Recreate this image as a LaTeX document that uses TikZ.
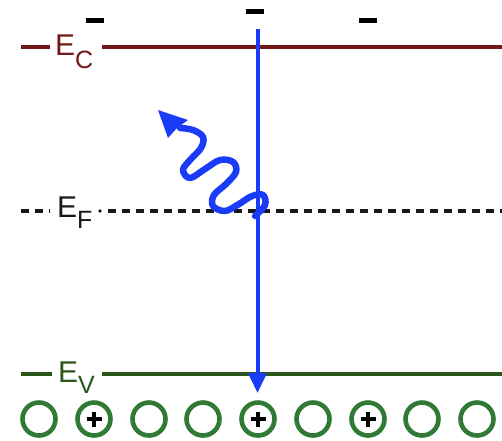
\documentclass[tikz,border=0pt]{standalone}
\usepackage{fontspec}
\setmainfont{Liberation Sans}
\usetikzlibrary{arrows.meta}
\definecolor{ecred}{HTML}{731818}
\definecolor{evgreen}{HTML}{2A5619}
\definecolor{holegreen}{HTML}{317A36}
\definecolor{photonblue}{HTML}{1A3CF8}
\tikzset{
  ecline/.style={line width=4.6pt, ecred},
  evline/.style={line width=4.6pt, evgreen},
  efline/.style={line width=4.2pt, black!90, dash pattern=on 8pt off 6pt},
  lbl/.style={inner sep=0pt, anchor=base west, font=\fontsize{30}{30}\selectfont},
  hole/.style={circle, draw=holegreen, line width=4.6pt, minimum size=33pt, inner sep=0pt},
  minusbar/.style={fill=black, minimum width=18pt, minimum height=5pt, inner sep=0pt},
  plusmark/.style={line width=3.8pt, black},
}
\begin{document}
\begin{tikzpicture}[x=1pt,y=-1pt]
\path[use as bounding box, fill=white] (0,0) rectangle (502,440);

% E_C level
\node[lbl, text=ecred] (EC) at (55,55) {E\raisebox{-13pt}{\fontsize{25}{25}\selectfont C}};
\coordinate (ec0) at (21,47);
\coordinate (ec1) at (50,47);
\coordinate (ec2) at (102,47);
\coordinate (ec3) at (502,47);
\draw[ecline] (ec0) -- (ec1);
\draw[ecline] (ec2) -- (ec3);

% E_F level
\node[lbl, text=black!90] (EF) at (57,217) {E\raisebox{-11pt}{\fontsize{25}{25}\selectfont F}};
\coordinate (ef0) at (21,211);
\coordinate (ef1) at (50,211);
\coordinate (ef2) at (108,211);
\coordinate (ef3) at (502,211);
\draw[efline] (ef0) -- (ef1);
\draw[efline] (ef2) -- (ef3);
\fill[black!90] (100,211) circle (1.8pt);

% E_V level
\node[lbl, text=evgreen] (EV) at (58,382) {E\raisebox{-11pt}{\fontsize{25}{25}\selectfont V}};
\coordinate (ev0) at (21,374);
\coordinate (ev1) at (52,374);
\coordinate (ev2) at (102,374);
\coordinate (ev3) at (502,374);
\draw[evline] (ev0) -- (ev1);
\draw[evline] (ev2) -- (ev3);

% electrons (minus signs)
\node[minusbar] (m1) at (95,20.5) {};
\node[minusbar] (m2) at (255,11) {};
\node[minusbar] (m3) at (367.5,20.5) {};

% holes row
\foreach \i/\x in {1/39,2/94,3/149,4/203,5/258,6/313,7/368,8/422,9/477}{
  \node[hole] (h\i) at (\x,419) {};
}
\foreach \i in {2,5,7}{
  \draw[plusmark] ([xshift=-7.5pt]h\i.center) -- ([xshift=7.5pt]h\i.center);
  \draw[plusmark] ([yshift=-7.5pt]h\i.center) -- ([yshift=7.5pt]h\i.center);
}

% vertical transition arrow
\coordinate (vtop) at (257.5,29);
\coordinate (vbot) at (257.5,393);
\draw[photonblue, line width=4pt, -{Triangle[length=20pt,width=18pt]}] (vtop) -- (vbot);

% emitted photon (wavy arrow)
\coordinate (ptip) at (158,110);
\draw[photonblue, line width=6.5pt, line cap=round, line join=round]
  plot[smooth, tension=0.6] coordinates {
   (255,216) (265,205) (263,195) (252,196) (239,204) (225,211) (213,206)
   (214,195) (226,184) (236,172) (233,162) (220,160) (205,169) (190,178)
   (183,170) (190,160) (201,148) (203,137) (193,130) (180,128)};
\fill[photonblue] (ptip) -- (188,120) -- (177,128) -- (168,138) -- cycle;
\end{tikzpicture}
\end{document}
